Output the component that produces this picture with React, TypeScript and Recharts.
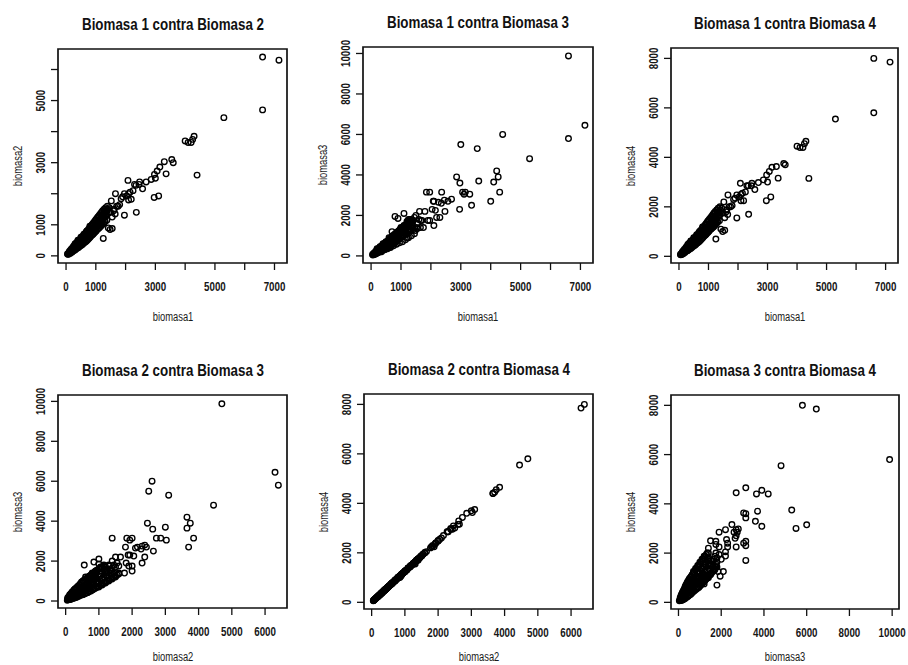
import React from 'react';
import { ScatterChart, Scatter, XAxis, YAxis, ReferenceArea } from 'recharts';

const FONT = "'Liberation Sans', Arial, sans-serif";

// observations: outliers (13), mid-range (30), dense cluster (124 + 60)
const b1 = [
  6600, 7150, 6600, 5300, 4400, 3550, 3000, 4000, 4300, 4100, 4250, 4200, 3600,
  1520, 1660, 2080, 1850, 1960, 2040, 2190, 2360, 1960, 2350,
  2470, 2570, 2690, 2860, 2970, 3060, 3150, 2960, 3110, 3360,
  3300, 1800, 2100, 2250, 2450, 2150, 2300, 2100, 1900, 1750,
  60, 80, 100, 120, 140, 150, 170, 180, 200, 210,
  230, 250, 260, 280, 300, 310, 330, 350, 370, 380,
  400, 420, 440, 450, 470, 490, 500, 520, 540, 560,
  580, 600, 620, 640, 660, 680, 700, 720, 740, 760,
  780, 800, 820, 840, 860, 880, 900, 920, 940, 960,
  980, 1000, 1020, 1040, 1060, 1080, 1100, 1120, 1140, 1160,
  1180, 1200, 1220, 1240, 1260, 1280, 1300, 1320, 1340, 1360,
  1380, 1400, 1420, 1480, 1550, 1450, 1500, 1600, 1620, 1700,
  1550, 1650, 900, 800, 700, 1200, 1250, 600, 500, 400,
  300, 200, 350, 450, 550, 650, 750, 850, 950, 1050,
  1150, 1250, 1350, 1450, 1000, 1100, 1200, 1300, 900, 1000,
  1100, 1200, 1300, 800, 700, 600, 500, 400, 300, 150,
  100, 50, 250, 350,
  100, 120, 150, 180, 200, 220, 240, 270, 290, 320,
  340, 360, 390, 410, 430, 460, 480, 510, 530, 550,
  570, 590, 610, 630, 650, 670, 690, 710, 730, 750,
  770, 790, 810, 830, 850, 870, 890, 910, 930, 950,
  970, 990, 1010, 1030, 1050, 1070, 1090, 1110, 1130, 1150,
  1170, 1190, 1210, 1230, 1260, 1280, 1310, 1330, 1370, 1390,
];

const b2 = [
  6400, 6300, 4700, 4450, 2600, 3100, 2500, 3700, 3850, 3650, 3750, 3650, 3000,
  1770, 2000, 2430, 1840, 2000, 1930, 1820, 1400, 1310, 2270,
  2380, 2160, 2380, 2460, 2620, 2730, 2860, 1880, 1930, 2640,
  3030, 1650, 1800, 2100, 2300, 2050, 2300, 2000, 1900, 1600,
  50, 70, 90, 100, 110, 140, 150, 130, 190, 170,
  220, 200, 250, 240, 270, 300, 280, 340, 310, 360,
  350, 400, 380, 430, 450, 410, 480, 500, 450, 540,
  520, 580, 540, 620, 600, 640, 620, 700, 660, 740,
  700, 780, 720, 820, 760, 860, 800, 900, 840, 950,
  880, 1000, 920, 1050, 950, 1100, 1000, 1150, 1050, 1200,
  1100, 1250, 1150, 1300, 1200, 1350, 1250, 1400, 1300, 1450,
  1350, 1500, 900, 850, 880, 1550, 1400, 1450, 1500, 1600,
  1250, 1350, 1000, 850, 600, 1000, 560, 500, 400, 300,
  200, 150, 300, 420, 500, 600, 720, 820, 900, 1000,
  1100, 1200, 1300, 1400, 800, 900, 1050, 1150, 700, 1150,
  1250, 1400, 1500, 950, 800, 700, 600, 500, 380, 180,
  120, 60, 300, 420,
  60, 150, 90, 220, 120, 260, 160, 320, 180, 380,
  220, 420, 250, 480, 280, 520, 320, 580, 350, 620,
  380, 660, 420, 700, 450, 760, 480, 800, 520, 850,
  560, 900, 600, 950, 650, 1000, 680, 1050, 720, 1100,
  760, 1150, 800, 1200, 850, 1250, 880, 1300, 920, 1350,
  950, 1400, 1000, 1450, 1050, 1500, 1100, 1550, 1150, 1600,
];

const b3 = [
  5800, 6450, 9880, 4800, 6000, 5300, 5500, 2700, 3150, 3650, 3900, 4200, 3700,
  1400, 1750, 2700, 3150, 3150, 2300, 1900, 3150, 1750, 2600,
  2200, 2700, 2800, 3900, 3600, 3150, 3150, 2300, 3050, 2500,
  3050, 2200, 2700, 2650, 2750, 2250, 1900, 1500, 1750, 1400,
  40, 90, 70, 130, 150, 100, 200, 160, 170, 250,
  200, 300, 220, 330, 260, 380, 300, 420, 330, 450,
  300, 500, 420, 360, 550, 480, 400, 620, 520, 480,
  700, 550, 640, 520, 780, 600, 720, 650, 880, 700,
  820, 950, 760, 1000, 820, 1050, 900, 1200, 850, 1100,
  1300, 950, 1150, 1250, 1000, 1400, 2100, 1200, 1350, 1500,
  1100, 1450, 1600, 1300, 1700, 1550, 1250, 1650, 1800, 1400,
  1500, 1700, 1300, 1250, 1350, 1900, 2000, 1800, 2200, 1750,
  1600, 1400, 1850, 1950, 1200, 900, 1800, 900, 700, 600,
  450, 350, 200, 300, 350, 420, 500, 580, 650, 700,
  800, 900, 1000, 1100, 1400, 1500, 1700, 1800, 1100, 1300,
  1150, 1400, 1200, 900, 850, 750, 650, 550, 350, 150,
  100, 70, 280, 400,
  150, 80, 220, 120, 300, 150, 350, 180, 420, 230,
  480, 260, 550, 300, 600, 320, 650, 360, 700, 400,
  750, 420, 820, 460, 880, 500, 950, 550, 1000, 600,
  1050, 650, 1100, 700, 1150, 750, 1200, 800, 1250, 850,
  1300, 900, 1350, 950, 1400, 1000, 1450, 1050, 1500, 1100,
  1550, 1150, 1600, 1200, 1650, 1250, 1700, 1300, 1750, 1350,
];

const b4 = [
  8000, 7850, 5800, 5550, 3150, 3750, 3000, 4450, 4650, 4400, 4550, 4400, 3700,
  2200, 2480, 2950, 2300, 2480, 2400, 2250, 1700, 1550, 2850,
  2950, 2700, 2980, 3090, 3290, 3430, 3600, 2250, 2400, 3160,
  3630, 2050, 2250, 2600, 2850, 2550, 2850, 2500, 2350, 2000,
  60, 90, 110, 125, 140, 175, 190, 165, 240, 210,
  275, 250, 310, 300, 340, 375, 350, 425, 390, 450,
  440, 500, 475, 540, 560, 510, 600, 625, 560, 675,
  650, 725, 675, 775, 750, 800, 775, 875, 825, 925,
  875, 975, 900, 1025, 950, 1075, 1000, 1125, 1050, 1190,
  1100, 1250, 1150, 1310, 1190, 1375, 1250, 1440, 1310, 1500,
  1375, 1560, 1440, 1625, 1500, 1690, 1560, 1750, 1625, 1810,
  1690, 1875, 1100, 1000, 1050, 1940, 1750, 1800, 1880, 2000,
  1560, 1690, 1250, 1060, 750, 1250, 700, 620, 500, 375,
  250, 190, 375, 525, 625, 750, 900, 1025, 1125, 1250,
  1375, 1500, 1625, 1750, 1000, 1125, 1310, 1440, 875, 1440,
  1560, 1750, 1875, 1190, 1000, 875, 750, 625, 475, 225,
  150, 75, 375, 525,
  75, 190, 110, 275, 150, 325, 200, 400, 225, 475,
  275, 525, 310, 600, 350, 650, 400, 725, 440, 775,
  475, 825, 525, 875, 560, 950, 600, 1000, 650, 1060,
  700, 1125, 750, 1190, 810, 1250, 850, 1310, 900, 1375,
  950, 1440, 1000, 1500, 1060, 1560, 1100, 1625, 1150, 1690,
  1190, 1750, 1250, 1810, 1310, 1875, 1375, 1940, 1440, 2000,
];

// axis ticks and which of them carry a label
const ticksB1 = [0, 1000, 2000, 3000, 4000, 5000, 6000, 7000];
const labelsB1 = [0, 1000, 3000, 5000, 7000];
const ticksB2x = [0, 1000, 2000, 3000, 4000, 5000, 6000];
const labelsB2x = [0, 1000, 2000, 3000, 4000, 5000, 6000];
const ticksB2y = [0, 1000, 2000, 3000, 4000, 5000, 6000];
const labelsB2y = [0, 1000, 3000, 5000];
const ticksB3 = [0, 2000, 4000, 6000, 8000, 10000];
const ticksB4 = [0, 2000, 4000, 6000, 8000];

const domB1: [number, number] = [-270, 7420];
const domB2: [number, number] = [-230, 6660];
const domB3: [number, number] = [-350, 10320];
const domB4: [number, number] = [-270, 8420];

type Box = { l: number; r: number; t: number; b: number };
type Panel = {
  title: string;
  xs: number[];
  ys: number[];
  xName: string;
  yName: string;
  xDomain: [number, number];
  yDomain: [number, number];
  xTicks: number[];
  xLabels: number[];
  yTicks: number[];
  yLabels: number[];
  box: Box;
};

const panels: Panel[] = [
  { title: 'Biomasa 1 contra Biomasa 2', xs: b1, ys: b2, xName: 'biomasa1', yName: 'biomasa2', xDomain: domB1, yDomain: domB2, xTicks: ticksB1, xLabels: labelsB1, yTicks: ticksB2y, yLabels: labelsB2y, box: { l: 58, r: 287, t: 49, b: 263 } },
  { title: 'Biomasa 1 contra Biomasa 3', xs: b1, ys: b3, xName: 'biomasa1', yName: 'biomasa3', xDomain: domB1, yDomain: domB3, xTicks: ticksB1, xLabels: labelsB1, yTicks: ticksB3, yLabels: ticksB3, box: { l: 363, r: 593, t: 47, b: 263 } },
  { title: 'Biomasa 1 contra Biomasa 4', xs: b1, ys: b4, xName: 'biomasa1', yName: 'biomasa4', xDomain: domB1, yDomain: domB4, xTicks: ticksB1, xLabels: labelsB1, yTicks: ticksB4, yLabels: ticksB4, box: { l: 671, r: 898, t: 48, b: 263 } },
  { title: 'Biomasa 2 contra Biomasa 3', xs: b2, ys: b3, xName: 'biomasa2', yName: 'biomasa3', xDomain: domB2, yDomain: domB3, xTicks: ticksB2x, xLabels: labelsB2x, yTicks: ticksB3, yLabels: ticksB3, box: { l: 58, r: 287, t: 395, b: 608 } },
  { title: 'Biomasa 2 contra Biomasa 4', xs: b2, ys: b4, xName: 'biomasa2', yName: 'biomasa4', xDomain: domB2, yDomain: domB4, xTicks: ticksB2x, xLabels: labelsB2x, yTicks: ticksB4, yLabels: ticksB4, box: { l: 364, r: 593, t: 394, b: 609 } },
  { title: 'Biomasa 3 contra Biomasa 4', xs: b3, ys: b4, xName: 'biomasa3', yName: 'biomasa4', xDomain: domB3, yDomain: domB4, xTicks: ticksB3, xLabels: ticksB3, yTicks: ticksB4, yLabels: ticksB4, box: { l: 671, r: 899, t: 395, b: 609 } },
];

const Ring = (props: any) => {
  const { cx, cy } = props;
  if (cx == null || cy == null) return <g />;
  return <circle cx={cx} cy={cy} r={2.8} fill="none" stroke="#000" strokeWidth={1.35} />;
};

const makeXTick = (labels: number[]) => (props: any) => {
  const { x, y, payload } = props;
  if (!labels.includes(payload.value)) return <g />;
  return (
    <g transform={`translate(${x},${y + 19.3}) scale(0.75,1)`}>
      <text x={0} y={0} textAnchor="middle" fontFamily={FONT} fontSize={13} fontWeight="bold" fill="#161616">
        {payload.value}
      </text>
    </g>
  );
};

const makeYTick = (labels: number[]) => (props: any) => {
  const { x, y, payload } = props;
  if (!labels.includes(payload.value)) return <g />;
  return (
    <g transform={`translate(${x - 4},${y}) rotate(-90) scale(0.75,1)`}>
      <text x={0} y={0} textAnchor="middle" fontFamily={FONT} fontSize={13} fontWeight="bold" fill="#161616">
        {payload.value}
      </text>
    </g>
  );
};

const PanelChart = ({ p }: { p: Panel }) => {
  const { box } = p;
  const data = p.xs.map((v, i) => ({ x: v, y: p.ys[i] }));
  const w = box.r - box.l + 60;
  const h = box.b - box.t + 55;
  const cx = (box.l + box.r) / 2;
  const cy = (box.t + box.b) / 2;
  const xTitleTop = Math.min(box.b + 47, 650);
  return (
    <>
      <div style={{ position: 'absolute', left: box.l - 50, top: box.t - 10 }}>
        <ScatterChart width={w} height={h} margin={{ top: 10, right: 10, bottom: 10, left: 10 }}>
          <XAxis
            type="number"
            dataKey="x"
            domain={p.xDomain}
            ticks={p.xTicks}
            allowDataOverflow
            height={35}
            axisLine={false}
            tickSize={7}
            tickLine={{ stroke: '#111', strokeWidth: 1.3 }}
            tick={makeXTick(p.xLabels)}
            interval={0}
          />
          <YAxis
            type="number"
            dataKey="y"
            domain={p.yDomain}
            ticks={p.yTicks}
            allowDataOverflow
            width={40}
            axisLine={false}
            tickSize={7}
            tickLine={{ stroke: '#111', strokeWidth: 1.3 }}
            tick={makeYTick(p.yLabels)}
            interval={0}
          />
          <ReferenceArea
            x1={p.xDomain[0]}
            x2={p.xDomain[1]}
            y1={p.yDomain[0]}
            y2={p.yDomain[1]}
            fill="none"
            fillOpacity={0}
            stroke="#111"
            strokeWidth={1.7}
            ifOverflow="visible"
          />
          <Scatter data={data} shape={Ring} isAnimationActive={false} />
        </ScatterChart>
      </div>
      <div style={{ position: 'absolute', left: cx - 150, top: box.t - 35, width: 300, textAlign: 'center', fontFamily: FONT, fontWeight: 'bold', fontSize: 16.5, lineHeight: '20px', color: '#111', transform: 'scaleX(0.81)' }}>
        {p.title}
      </div>
      <div style={{ position: 'absolute', left: cx - 60, top: xTitleTop, width: 120, textAlign: 'center', fontFamily: FONT, fontSize: 12.5, lineHeight: '14px', color: '#1a1a1a', transform: 'scaleX(0.75)' }}>
        {p.xName}
      </div>
      <div style={{ position: 'absolute', left: box.l - 40 - 60, top: cy + 10 - 7, width: 120, height: 14, textAlign: 'center', fontFamily: FONT, fontSize: 12.5, lineHeight: '14px', color: '#1a1a1a', transform: 'rotate(-90deg) scaleX(0.75)' }}>
        {p.yName}
      </div>
    </>
  );
};

export default function App() {
  return (
    <div style={{ position: 'absolute', left: 0, top: 0, width: 908, height: 665, background: '#fff', overflow: 'hidden' }}>
      {panels.map((p) => (
        <PanelChart key={p.title} p={p} />
      ))}
    </div>
  );
}
